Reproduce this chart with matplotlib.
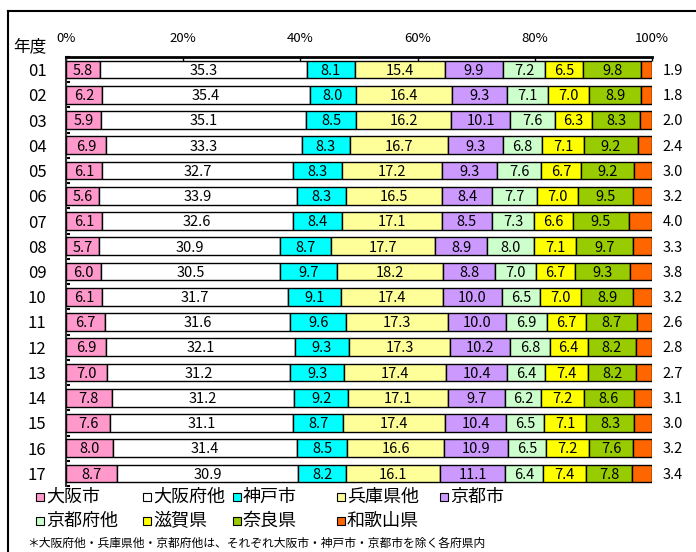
import numpy as np
import matplotlib
matplotlib.use("Agg")
import matplotlib.pyplot as plt
from matplotlib.patches import Rectangle
from matplotlib.lines import Line2D

plt.rcParams['font.family'] = ['Noto Sans CJK JP', 'DejaVu Sans']

years = ['01', '02', '03', '04', '05', '06', '07', '08', '09',
         '10', '11', '12', '13', '14', '15', '16', '17']
names = ['大阪市', '大阪府他', '神戸市', '兵庫県他', '京都市',
         '京都府他', '滋賀県', '奈良県', '和歌山県']
colors = ['#FF99CC', '#FFFFFF', '#00FFFF', '#FFFF99', '#CC99FF',
          '#CCFFCC', '#FFFF00', '#99CC00', '#FF6600']

osaka_city = [5.8, 6.2, 5.9, 6.9, 6.1, 5.6, 6.1, 5.7, 6.0, 6.1, 6.7, 6.9, 7.0, 7.8, 7.6, 8.0, 8.7]
osaka_other = [35.3, 35.4, 35.1, 33.3, 32.7, 33.9, 32.6, 30.9, 30.5, 31.7, 31.6, 32.1, 31.2, 31.2, 31.1, 31.4, 30.9]
kobe = [8.1, 8.0, 8.5, 8.3, 8.3, 8.3, 8.4, 8.7, 9.7, 9.1, 9.6, 9.3, 9.3, 9.2, 8.7, 8.5, 8.2]
hyogo_other = [15.4, 16.4, 16.2, 16.7, 17.2, 16.5, 17.1, 17.7, 18.2, 17.4, 17.3, 17.3, 17.4, 17.1, 17.4, 16.6, 16.1]
kyoto_city = [9.9, 9.3, 10.1, 9.3, 9.3, 8.4, 8.5, 8.9, 8.8, 10.0, 10.0, 10.2, 10.4, 9.7, 10.4, 10.9, 11.1]
kyoto_other = [7.2, 7.1, 7.6, 6.8, 7.6, 7.7, 7.3, 8.0, 7.0, 6.5, 6.9, 6.8, 6.4, 6.2, 6.5, 6.5, 6.4]
shiga = [6.5, 7.0, 6.3, 7.1, 6.7, 7.0, 6.6, 7.1, 6.7, 7.0, 6.7, 6.4, 7.4, 7.2, 7.1, 7.2, 7.4]
nara = [9.8, 8.9, 8.3, 9.2, 9.2, 9.5, 9.5, 9.7, 9.3, 8.9, 8.7, 8.2, 8.2, 8.6, 8.3, 7.6, 7.8]
wakayama = [1.9, 1.8, 2.0, 2.4, 3.0, 3.2, 4.0, 3.3, 3.8, 3.2, 2.6, 2.8, 2.7, 3.1, 3.0, 3.2, 3.4]

series = [osaka_city, osaka_other, kobe, hyogo_other, kyoto_city,
          kyoto_other, shiga, nara, wakayama]

data = np.array(series, dtype=float)
share = data / data.sum(axis=0) * 100

fig = plt.figure(figsize=(6.96, 5.52), dpi=100)
ax = fig.add_axes([66 / 696, 1 - 486 / 552, 586 / 696, 429 / 552])

y = np.arange(len(years))
left = np.zeros(len(years))
for i in range(len(series)):
    ax.barh(y, share[i], left=left, height=0.7, color=colors[i],
            edgecolor='black', linewidth=1.0, zorder=3)
    if i < 8:
        for j in range(len(years)):
            ax.text(left[j] + share[i][j] / 2, y[j] + 0.05, f"{series[i][j]:.1f}",
                    ha='center', va='center', fontsize=10.5, zorder=4)
    left = left + share[i]

for j in range(len(years)):
    ax.text(103.5, y[j] + 0.05, f"{wakayama[j]:.1f}", ha='center', va='center',
            fontsize=10.5, clip_on=False)

ax.set_xlim(0, 100)
ax.set_ylim(len(years) - 0.5, -0.5)
ax.xaxis.tick_top()
ax.set_xticks([0, 20, 40, 60, 80, 100])
ax.set_xticklabels(['0%', '20%', '40%', '60%', '80%', '100%'], fontsize=9.5)
ax.tick_params(axis='x', direction='in', length=3, pad=9, width=1)
ax.set_yticks(y)
ax.set_yticklabels(years, fontsize=12)
ax.tick_params(axis='y', length=0, pad=14)
ax.set_yticks(np.arange(len(years) + 1) - 0.5, minor=True)
ax.tick_params(axis='y', which='minor', direction='in', length=3, width=1.5)
for s in ['right', 'bottom']:
    ax.spines[s].set_visible(False)
ax.spines['top'].set_linewidth(2)
ax.spines['left'].set_linewidth(1.5)
ax.spines['left'].set_color('#333333')

fig.text(13 / 696, 1 - 47 / 552, '年度', fontsize=12, va='center', ha='left')

# legend
col_x = [36, 143, 233, 337, 440]
row_y = [497, 521]
for k, name in enumerate(names):
    r, c = divmod(k, 5)
    x0 = col_x[c] / 696
    y0 = 1 - row_y[r] / 552
    fig.patches.append(Rectangle((x0, y0 - 4 / 552), 8 / 696, 8 / 552,
                                 transform=fig.transFigure, facecolor=colors[k],
                                 edgecolor='black', linewidth=0.8))
    fig.text(x0 + 10 / 696, y0, name, fontsize=13, va='center', ha='left')

fig.text(27 / 696, 1 - 543 / 552,
         '＊大阪府他・兵庫県他・京都府他は、それぞれ大阪市・神戸市・京都市を除く各府県内',
         fontsize=8.5, va='center', ha='left')

# outer frame
fig.lines.append(Line2D([8 / 696, 8 / 696], [0, 1 - 11 / 552], transform=fig.transFigure,
                        color='black', linewidth=1.5))
fig.lines.append(Line2D([8 / 696, 1], [1 - 11 / 552, 1 - 11 / 552], transform=fig.transFigure,
                        color='black', linewidth=1.5))

fig.savefig('out.png', dpi=100)
